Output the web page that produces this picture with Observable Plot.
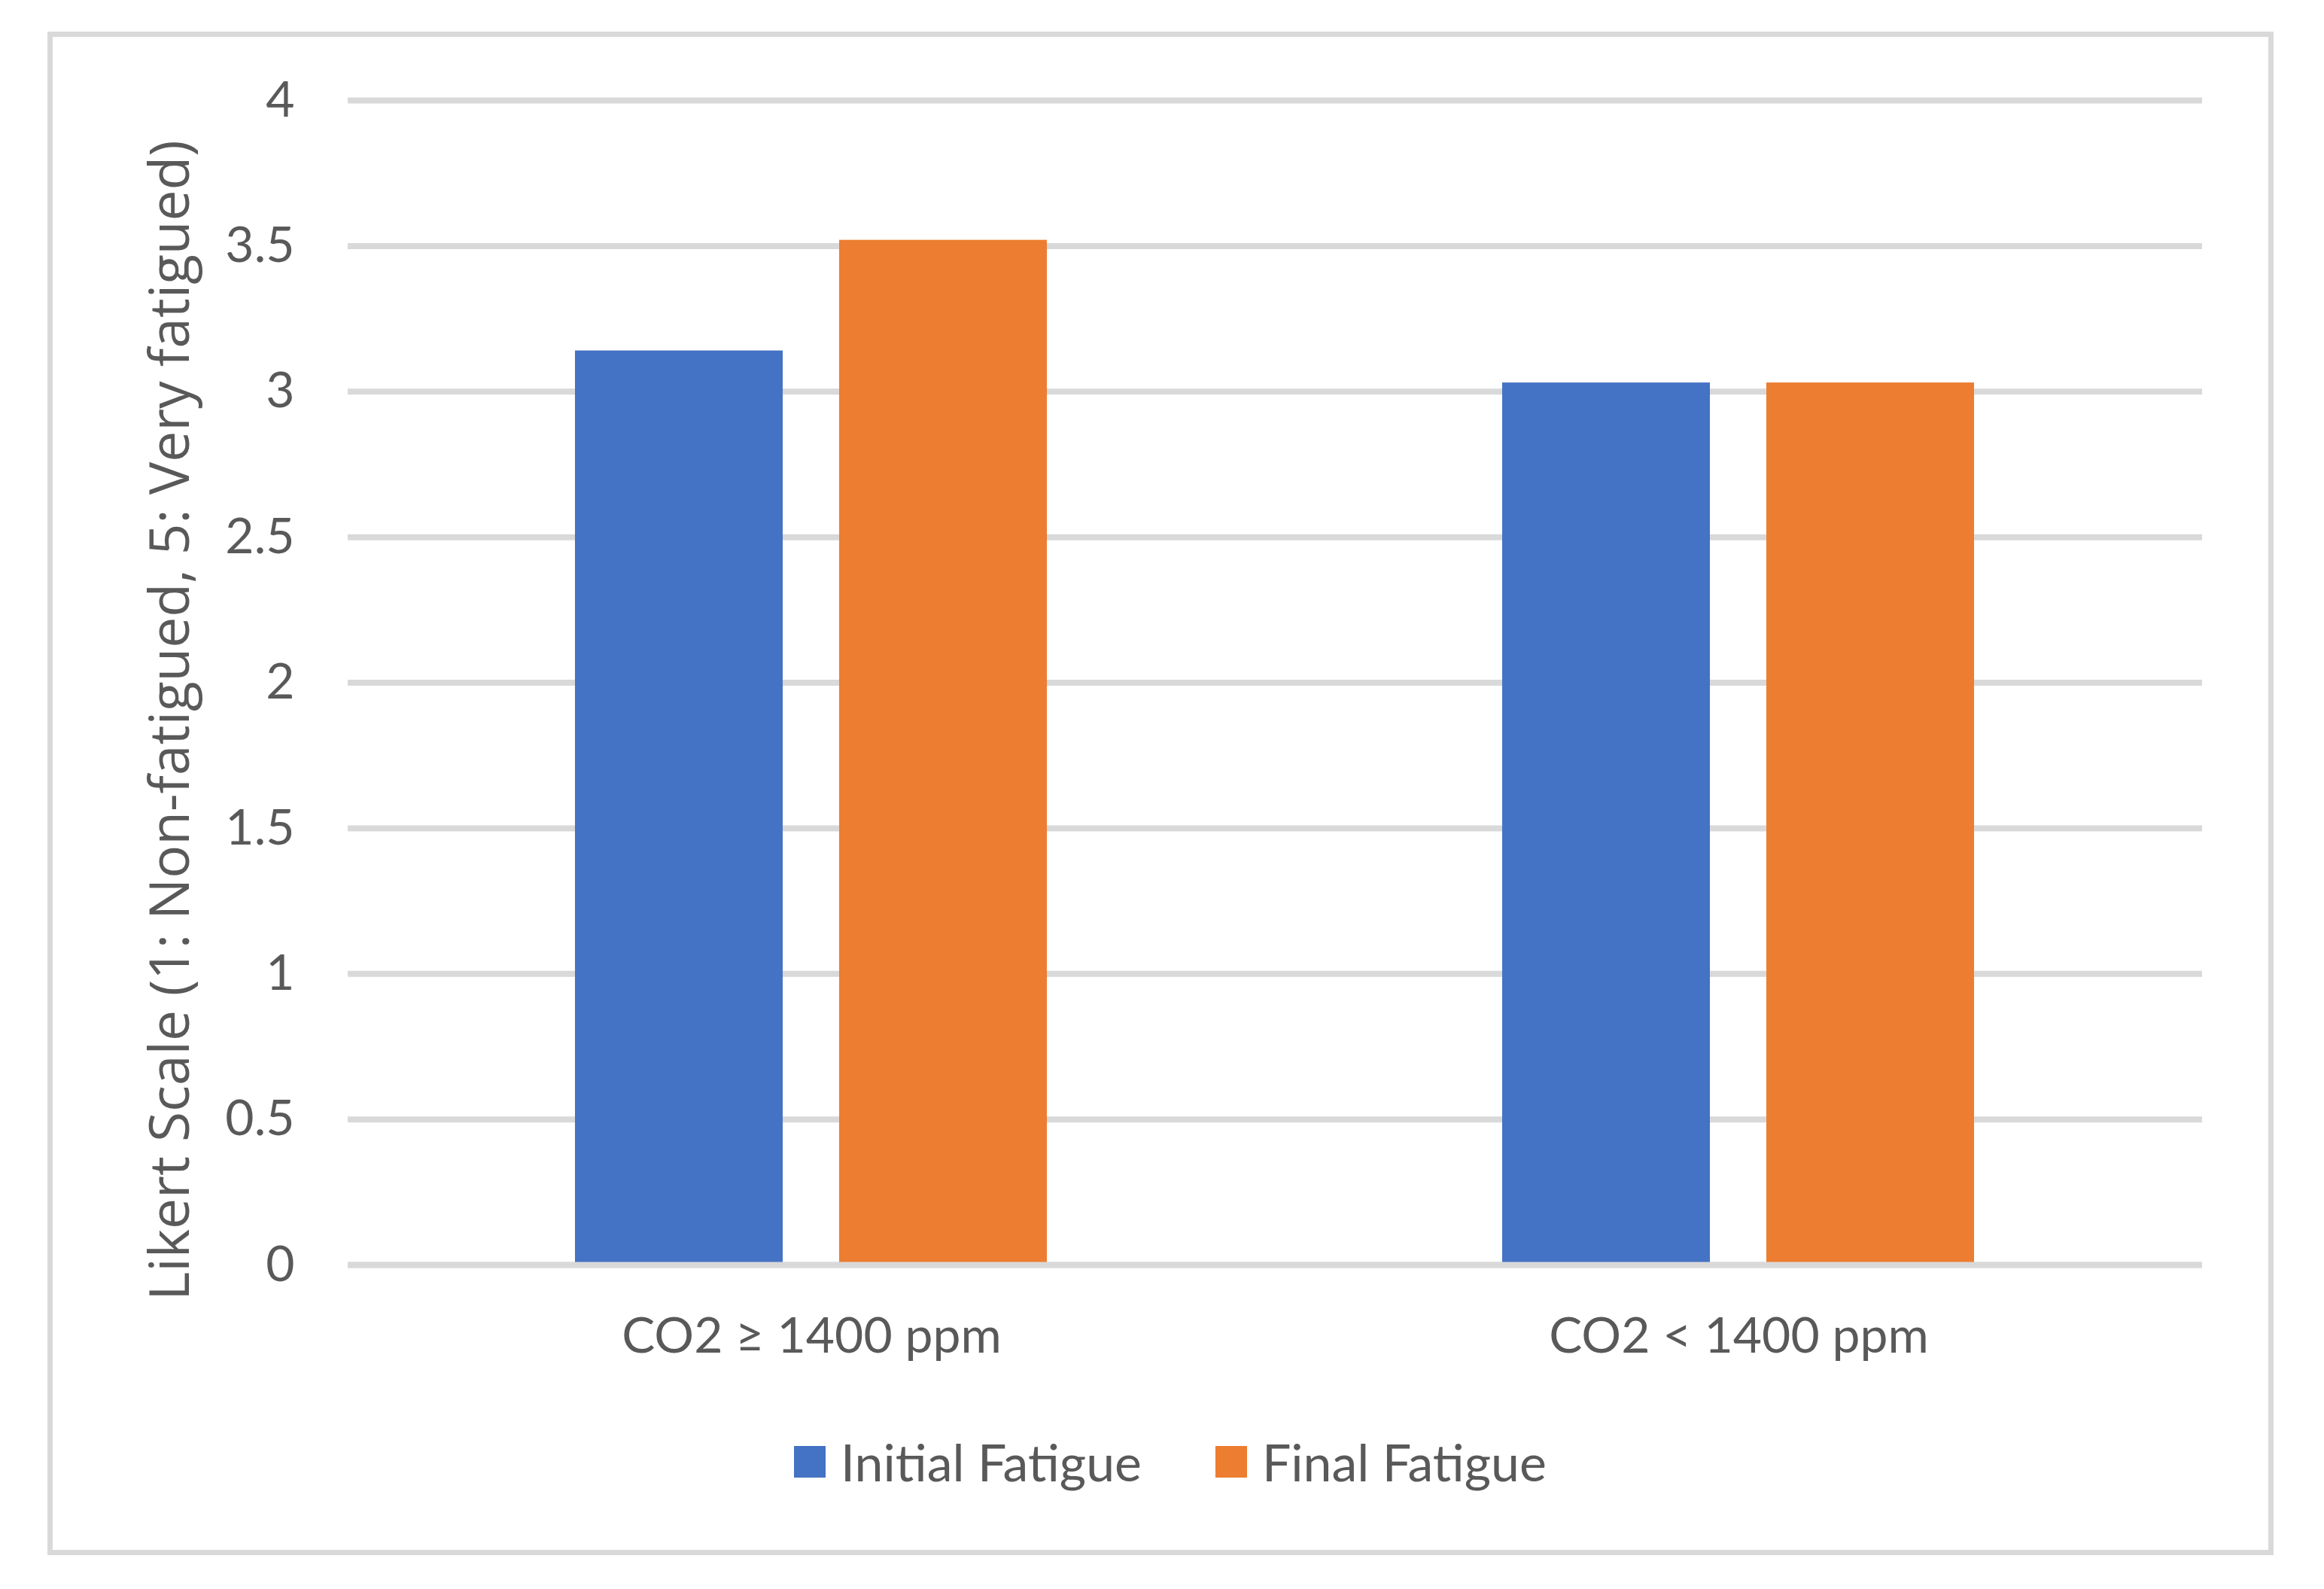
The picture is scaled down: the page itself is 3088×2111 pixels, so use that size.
<!DOCTYPE html>
<html>
<head>
<meta charset="utf-8">
<script src="https://cdn.jsdelivr.net/npm/d3@7"></script>
<script src="https://cdn.jsdelivr.net/npm/@observablehq/plot@0.6"></script>
<style>
  html, body { margin: 0; padding: 0; background: #ffffff; }
  #page { position: relative; width: 3088px; height: 2111px; overflow: hidden; }
  #chart { position: absolute; left: 0; top: 0; }
  #frame { position: absolute; left: 63px; top: 42px; width: 2958px; height: 2024px;
           border: 7px solid #d9d9d9; box-sizing: border-box; pointer-events: none; }
  #legend { position: absolute; left: 1055px; top: 1908px; height: 68px; display: flex; align-items: center;
            font-family: Lato, sans-serif; font-size: 68px; line-height: 1; color: #595959; }
  .item { display: flex; align-items: center; margin-right: 98px; }
  .swatch { width: 42px; height: 42px; margin-right: 20px; }
</style>
</head>
<body>
<div id="page">
  <div id="chart"></div>
  <div id="frame"></div>
  <div id="legend"></div>
</div>
<script>
const groups = ["CO2 \u2265 1400 ppm", "CO2 < 1400 ppm"];
const seriesNames = ["Initial Fatigue", "Final Fatigue"];
const initialValues = [3.14, 3.03];
const finalValues = [3.52, 3.03];
const yTicks = [0, 0.5, 1, 1.5, 2, 2.5, 3, 3.5, 4];
const seriesColors = ["#4472c4", "#ed7d31"];
const yTitle = "Likert Scale (1: Non-fatigued, 5: Very fatigued)";

const data = groups.flatMap((g, i) => [
  {group: g, series: seriesNames[0], value: initialValues[i]},
  {group: g, series: seriesNames[1], value: finalValues[i]}
]);

const chart = Plot.plot({
  width: 3088,
  height: 1850,
  marginTop: 133,
  marginBottom: 170,
  marginLeft: 462,
  marginRight: 162,
  style: {fontFamily: "Lato, sans-serif", color: "#595959", background: "transparent", overflow: "visible"},
  fx: {domain: groups, padding: 0, label: null},
  x: {domain: seriesNames, paddingInner: 0.213, paddingOuter: 0.858, axis: null},
  y: {domain: [0, 4]},
  color: {domain: seriesNames, range: seriesColors},
  marks: [
    Plot.ruleY(yTicks, {stroke: "#d9d9d9", strokeWidth: 8}),
    Plot.barY(data, {fx: "group", x: "series", y: "value", fill: "series"}),
    Plot.ruleY([0], {stroke: "#d9d9d9", strokeWidth: 8}),
    Plot.axisY(yTicks, {tickSize: 0, tickPadding: 71, fontSize: 66, tickFormat: d => String(d), label: null}),
    Plot.axisFx({anchor: "bottom", tickSize: 0, tickPadding: 70, fontSize: 66, label: null}),
    Plot.text([yTitle], {
      fx: () => groups[0],
      text: d => d,
      frameAnchor: "left",
      rotate: -90,
      dx: -212,
      dy: 50,
      lineAnchor: "bottom",
      textAnchor: "middle",
      fontSize: 73,
      fontFamily: "Open Sans",
      fill: "#595959"
    })
  ]
});
document.getElementById("chart").appendChild(chart);

const legend = document.getElementById("legend");
seriesNames.forEach((name, i) => {
  const item = document.createElement("div");
  item.className = "item";
  const sw = document.createElement("div");
  sw.className = "swatch";
  sw.style.background = seriesColors[i];
  const label = document.createElement("span");
  label.textContent = name;
  item.appendChild(sw);
  item.appendChild(label);
  legend.appendChild(item);
});
</script>
</body>
</html>
